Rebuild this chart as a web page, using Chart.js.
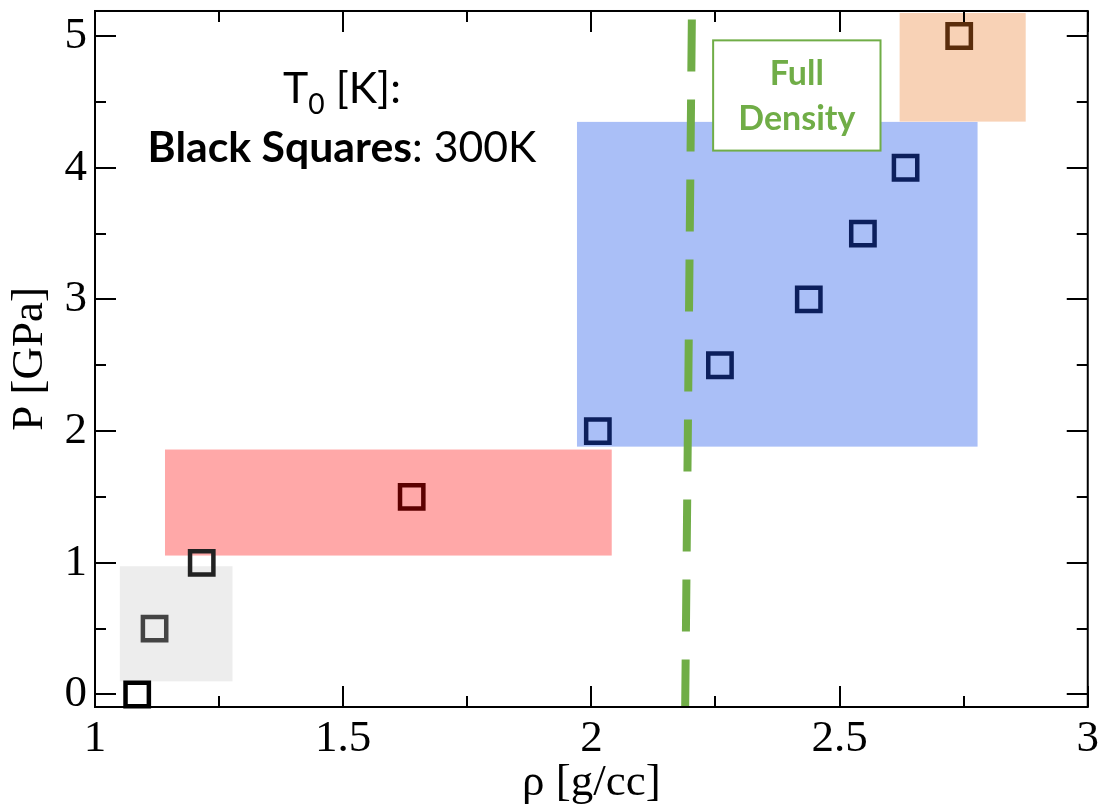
<!DOCTYPE html>
<html>
<head>
<meta charset="utf-8">
<script src="https://cdn.jsdelivr.net/npm/chart.js@4"></script>
<style>
  html, body { margin: 0; padding: 0; background: #fff; }
  canvas { display: block; }
</style>
</head>
<body>
<canvas id="chart" width="1104" height="806"></canvas>
<script>
// measured points, T0 = 300 K
const rho = [1.085, 1.12, 1.215, 1.638, 2.013, 2.259, 2.438, 2.547, 2.633, 2.741];
const pressure = [0, 0.5, 1.0, 1.5, 2.0, 2.5, 3.0, 3.5, 4.0, 5.0];
const markerColors = ['#000000', '#444444', '#222222', '#5c0000', '#0c1f5c', '#0c1f5c',
                      '#0c1f5c', '#0c1f5c', '#0c1f5c', '#5a2d0c'];

// shaded regions: density range and pressure range of each
const regionRho = [[1.050, 1.277], [1.141, 2.041], [1.971, 2.778], [2.621, 2.875]];
const regionP = [[0.10, 0.974], [1.055, 1.860], [1.882, 4.348], [4.350, 5.175]];
const regionColors = ['#ededed', '#ffa8a8', '#aabff7', '#f8d2b6'];

// full density marker line (top to bottom)
const fullDensityRho = [2.2024, 2.189];
const fullDensityP = [5.125, -0.095];

const xTicks = [1, 1.5, 2, 2.5, 3];
const yTicks = [0, 1, 2, 3, 4, 5];

const serif = "'Liberation Serif', 'Times New Roman', serif";
const sans = "Lato, 'Open Sans', sans-serif";
const green = '#70ad47';

const regionsPlugin = {
  id: 'regions',
  beforeDatasetsDraw(chart) {
    const { ctx, scales: { x, y } } = chart;
    ctx.save();
    regionRho.forEach((r, i) => {
      const x0 = x.getPixelForValue(r[0]);
      const x1 = x.getPixelForValue(r[1]);
      const y0 = y.getPixelForValue(regionP[i][1]);
      const y1 = y.getPixelForValue(regionP[i][0]);
      ctx.fillStyle = regionColors[i];
      ctx.fillRect(x0, y0, x1 - x0, y1 - y0);
    });
    ctx.restore();
  }
};

// width-fitted font size for a run of [text, weight] parts
function fitSize(ctx, parts, target) {
  let w = 0;
  parts.forEach(([t, wt]) => { ctx.font = wt + ' 100px ' + sans; w += ctx.measureText(t).width; });
  return 100 * target / w;
}

const framePlugin = {
  id: 'frame',
  afterDraw(chart) {
    const { ctx, chartArea: a, scales: { x, y } } = chart;
    ctx.save();
    ctx.strokeStyle = '#000';
    ctx.lineWidth = 2;
    ctx.strokeRect(a.left, a.top, a.right - a.left, a.bottom - a.top);

    // inward ticks on all four sides, minor ticks halfway
    ctx.beginPath();
    for (let v = 1; v <= 3.0001; v += 0.25) {
      const px = Math.round(x.getPixelForValue(v));
      const len = Math.abs(v * 2 - Math.round(v * 2)) < 1e-6 ? 21 : 11;
      ctx.moveTo(px, a.bottom); ctx.lineTo(px, a.bottom - len);
      ctx.moveTo(px, a.top); ctx.lineTo(px, a.top + len);
    }
    for (let v = 0; v <= 5.0001; v += 0.5) {
      const py = Math.round(y.getPixelForValue(v));
      const len = Math.abs(v - Math.round(v)) < 1e-6 ? 21 : 11;
      ctx.moveTo(a.left, py); ctx.lineTo(a.left + len, py);
      ctx.moveTo(a.right, py); ctx.lineTo(a.right - len, py);
    }
    ctx.stroke();

    // temperature note
    ctx.fillStyle = '#000';
    ctx.textBaseline = 'alphabetic';
    ctx.textAlign = 'left';
    const s = fitSize(ctx, [['Black Squares', 'bold'], [': 300K', 'normal']], 389);
    ctx.font = 'bold ' + s + 'px ' + sans;
    const wb = ctx.measureText('Black Squares').width;
    ctx.font = 'normal ' + s + 'px ' + sans;
    const wr = ctx.measureText(': 300K').width;
    let cx = 342 - (wb + wr) / 2;
    ctx.font = 'bold ' + s + 'px ' + sans;
    ctx.fillText('Black Squares', cx, 162);
    ctx.font = 'normal ' + s + 'px ' + sans;
    ctx.fillText(': 300K', cx + wb, 162);

    const sub = s * 0.66;
    ctx.font = 'normal ' + s + 'px ' + sans;
    const wT = ctx.measureText('T').width;
    const wK = ctx.measureText(' [K]:').width;
    ctx.font = 'normal ' + sub + 'px ' + sans;
    const w0 = ctx.measureText('0').width;
    cx = 342 - (wT + w0 + wK) / 2;
    ctx.font = 'normal ' + s + 'px ' + sans;
    ctx.fillText('T', cx, 103);
    ctx.fillText(' [K]:', cx + wT + w0, 103);
    ctx.font = 'normal ' + sub + 'px ' + sans;
    ctx.fillText('0', cx + wT, 114);

    // full density label box
    const bx0 = x.getPixelForValue(2.2453), bx1 = x.getPixelForValue(2.5825);
    const by0 = y.getPixelForValue(4.967), by1 = y.getPixelForValue(4.13);
    ctx.fillStyle = '#fff';
    ctx.fillRect(bx0, by0, bx1 - bx0, by1 - by0);
    ctx.strokeStyle = green;
    ctx.lineWidth = 2;
    ctx.strokeRect(bx0, by0, bx1 - bx0, by1 - by0);
    const fs = fitSize(ctx, [['Density', 'bold']], 117);
    ctx.font = 'bold ' + fs + 'px ' + sans;
    ctx.fillStyle = green;
    ctx.textAlign = 'center';
    const bcx = (bx0 + bx1) / 2;
    ctx.fillText('Full', bcx, 85);
    ctx.fillText('Density', bcx, 130);
    ctx.restore();
  }
};

// y labels are single line: a tiny line height keeps the frame 11px from the top
const xTickFont = { family: serif, size: 45, lineHeight: 1.2 };
const yTickFont = { family: serif, size: 45, lineHeight: 0.133 };
const titleFont = { family: serif, size: 45, lineHeight: 1 };

new Chart(document.getElementById('chart').getContext('2d'), {
  type: 'scatter',
  data: {
    datasets: [
      {
        label: '300K',
        data: rho.map((r, i) => ({ x: r, y: pressure[i] })),
        pointStyle: 'rect',
        pointRadius: 16.5,
        pointHoverRadius: 16.5,
        pointBorderWidth: 4.5,
        pointBackgroundColor: 'rgba(0,0,0,0)',
        pointBorderColor: markerColors,
        showLine: false,
        clip: false,
        order: 0
      },
      {
        label: 'Full Density',
        data: fullDensityRho.map((r, i) => ({ x: r, y: fullDensityP[i] })),
        showLine: true,
        borderColor: green,
        borderWidth: 8,
        borderDash: [52, 28],
        borderCapStyle: 'butt',
        pointRadius: 0,
        order: 1
      }
    ]
  },
  options: {
    responsive: false,
    animation: false,
    devicePixelRatio: 1,
    layout: { padding: 0, autoPadding: false },
    plugins: { legend: { display: false }, tooltip: { enabled: false } },
    scales: {
      x: {
        type: 'linear',
        min: 1,
        max: 3,
        afterBuildTicks: s => { s.ticks = xTicks.map(v => ({ value: v })); },
        afterFit: s => { s.height = 99; },
        grid: { display: false, drawTicks: false },
        border: { display: false },
        ticks: { font: xTickFont, color: '#000', padding: 5, maxRotation: 0, autoSkip: false,
                 callback: v => String(v) },
        title: { display: true, text: 'ρ [g/cc]', font: titleFont, color: '#000',
                 padding: { top: 0, bottom: 0 } }
      },
      y: {
        type: 'linear',
        min: -0.095,
        max: 5.19,
        afterBuildTicks: s => { s.ticks = yTicks.map(v => ({ value: v })); },
        afterFit: s => { s.width = 95; },
        grid: { display: false, drawTicks: false },
        border: { display: false },
        ticks: { font: yTickFont, color: '#000', padding: 8, autoSkip: false,
                 callback: v => String(v) },
        title: { display: true, text: 'P [GPa]', font: titleFont, color: '#000',
                 padding: { top: 8, bottom: 0 } }
      }
    }
  },
  plugins: [regionsPlugin, framePlugin]
});
</script>
</body>
</html>
